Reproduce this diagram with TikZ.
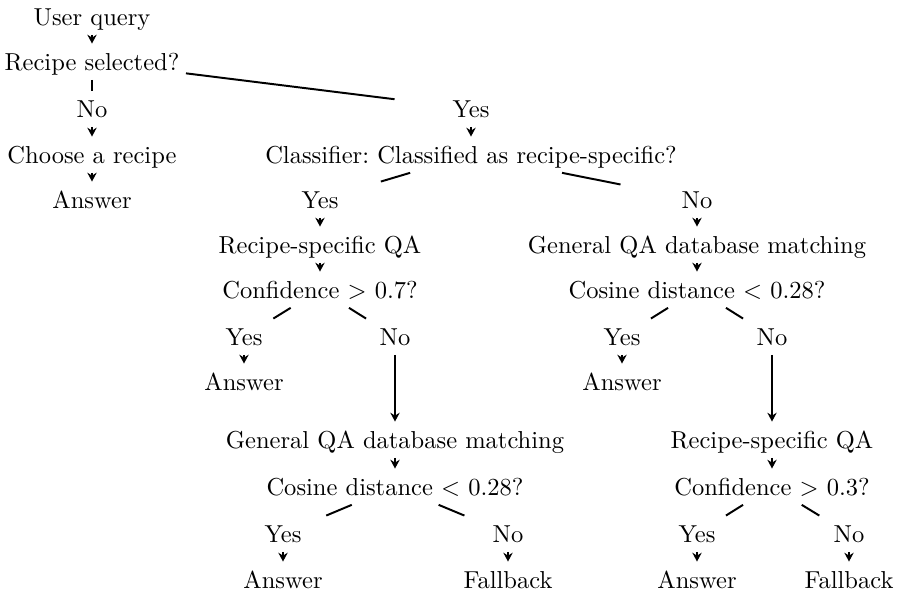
\documentclass[tikz,border=0pt]{standalone}
\usepackage{tikz}
\usepackage{amsmath}
\usetikzlibrary{arrows.meta}

\begin{document}
\begin{tikzpicture}[x=0.408pt, y=-0.408pt,
  every node/.style={text height=9.6pt, text depth=2.8pt, inner xsep=2.5pt, inner ysep=1pt, minimum width=62pt},
  branch/.style={line width=0.8pt},
  flow/.style={line width=0.8pt, -{Stealth[length=3.6pt, width=3.8pt]}}]
  % Frame
  \useasboundingbox (0, 0) rectangle (897, 590);

  % Start
  \node (query) at (92, 16.7) {User query};
  \node (sel) at (92, 61.7) {Recipe selected?};
  \node (noA) at (92, 108.7) {No};
  \node (choose) at (92, 154.7) {Choose a recipe};
  \node (ansA) at (92, 199.7) {Answer};
  \node (yesA) at (471, 108.7) {Yes};
  \node (cls) at (471, 154.7) {Classifier:\ Classified as recipe-specific?};

  % Recipe-specific side
  \node (yesB) at (320, 199.7) {Yes};
  \node (rqaA) at (320, 244.7) {Recipe-specific QA};
  \node (confA) at (320, 289.7) {Confidence $>$ 0.7?};
  \node (yesC) at (244, 336.7) {Yes};
  \node (ansB) at (244, 381.7) {Answer};
  \node (noC) at (395, 336.7) {No};
  \node (gqaB) at (395, 439.7) {General QA database matching};
  \node (cosB) at (395, 486.7) {Cosine distance $<$ 0.28?};
  \node (yesE) at (283, 533.7) {Yes};
  \node (ansD) at (283, 579.7) {Answer};
  \node (noE) at (508, 533.7) {No};
  \node (fbA) at (508, 579.7) {Fallback};

  % General side
  \node (noB) at (697, 199.7) {No};
  \node (gqaA) at (697, 244.7) {General QA database matching};
  \node (cosA) at (697, 289.7) {Cosine distance $<$ 0.28?};
  \node (yesD) at (622, 336.7) {Yes};
  \node (ansC) at (622, 381.7) {Answer};
  \node (noD) at (772, 336.7) {No};
  \node (rqaB) at (772, 439.7) {Recipe-specific QA};
  \node (confB) at (772, 486.7) {Confidence $>$ 0.3?};
  \node (yesF) at (697, 533.7) {Yes};
  \node (ansE) at (697, 579.7) {Answer};
  \node (noF) at (849, 533.7) {No};
  \node (fbB) at (849, 579.7) {Fallback};

  % Branches
  \draw[branch] (sel) -- (noA);
  \draw[branch] (sel) -- (yesA);
  \draw[branch] (cls) -- (yesB);
  \draw[branch] (cls) -- (noB);
  \draw[branch] (confA) -- (yesC);
  \draw[branch] (confA) -- (noC);
  \draw[branch] (cosB) -- (yesE);
  \draw[branch] (cosB) -- (noE);
  \draw[branch] (cosA) -- (yesD);
  \draw[branch] (cosA) -- (noD);
  \draw[branch] (confB) -- (yesF);
  \draw[branch] (confB) -- (noF);

  % Steps
  \draw[flow] (query) -- (sel);
  \draw[flow] (noA) -- (choose);
  \draw[flow] (choose) -- (ansA);
  \draw[flow] (yesA) -- (cls);
  \draw[flow] (yesB) -- (rqaA);
  \draw[flow] (rqaA) -- (confA);
  \draw[flow] (yesC) -- (ansB);
  \draw[flow] (noC) -- (gqaB);
  \draw[flow] (gqaB) -- (cosB);
  \draw[flow] (yesE) -- (ansD);
  \draw[flow] (noE) -- (fbA);
  \draw[flow] (noB) -- (gqaA);
  \draw[flow] (gqaA) -- (cosA);
  \draw[flow] (yesD) -- (ansC);
  \draw[flow] (noD) -- (rqaB);
  \draw[flow] (rqaB) -- (confB);
  \draw[flow] (yesF) -- (ansE);
  \draw[flow] (noF) -- (fbB);
\end{tikzpicture}
\end{document}
